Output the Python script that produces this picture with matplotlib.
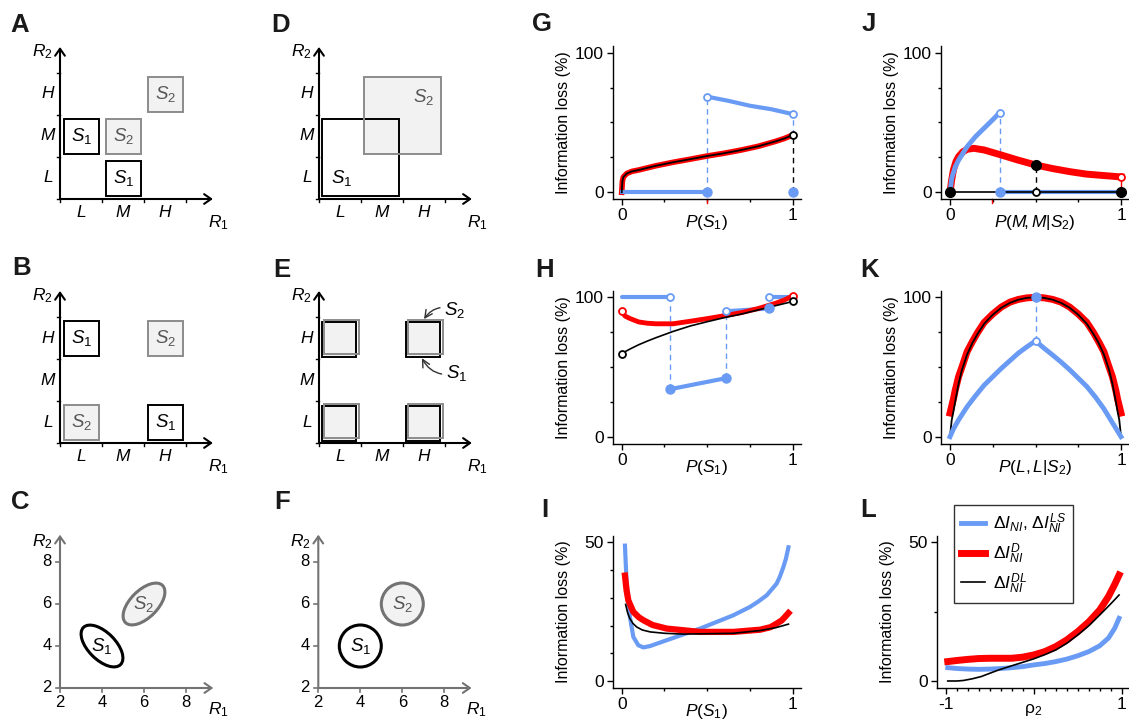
import numpy as np
import matplotlib
matplotlib.use('Agg')
import matplotlib.pyplot as plt
from matplotlib.patches import Rectangle, Ellipse, Circle, FancyArrowPatch
from matplotlib.lines import Line2D

plt.rcParams['font.family'] = ['Liberation Sans', 'DejaVu Sans']
plt.rcParams['mathtext.fontset'] = 'custom'
plt.rcParams['mathtext.rm'] = 'Liberation Sans'
plt.rcParams['mathtext.it'] = 'Liberation Sans:italic'
plt.rcParams['mathtext.bf'] = 'Liberation Sans:bold'
plt.rcParams['axes.unicode_minus'] = False

# ---------------- data ----------------
cat_labels = ['L', 'M', 'H']
# (column, row) cells of the response boxes
a_s1 = [(0, 1), (1, 0)]
a_s2 = [(1, 1), (2, 2)]
b_s1 = [(0, 2), (2, 0)]
b_s2 = [(2, 2), (0, 0)]
e_cells = [(0, 0), (0, 2), (2, 0), (2, 2)]
d_s1 = (0.08, 0.07, 1.9, 1.9)   # x0, y0, x1, y1 in cells
d_s2 = (1.07, 1.07, 2.9, 2.9)

cf_ticks = [2, 4, 6, 8]
c_s1 = (4, 4, 2.5, 1.3, -45)    # cx, cy, width, height, angle
c_s2 = (6, 6, 2.5, 1.3, 45)
f_s1 = (4, 4, 1.0)              # cx, cy, radius
f_s2 = (6, 6, 1.0)

# G
g_x = [0, 0.004, 0.01, 0.03, 0.06, 0.1, 0.2, 0.3, 0.4, 0.5, 0.6, 0.7, 0.8, 0.9, 0.95, 1.0]
g_dl = [0, 8, 11, 13.5, 15, 16, 19, 21.5, 23.7, 26, 28, 30.3, 33, 36.5, 38.5, 41]
g_blue_lo_x = [0, 0.5]
g_blue_lo = [0, 0]
g_blue_hi_x = [0.5, 0.625, 0.75, 0.875, 1.0]
g_blue_hi = [68.5, 65.5, 62, 59.5, 56]

# H
h_blue_segs = [([0, 0.28], [100, 100]),
               ([0.28, 0.61], [34, 42]),
               ([0.61, 0.86], [90, 92]),
               ([0.86, 1.0], [100, 100])]
h_x = [0, 0.02, 0.05, 0.1, 0.15, 0.2, 0.3, 0.4, 0.5, 0.6, 0.7, 0.8, 0.9, 0.95, 1.0]
h_red = [90, 86.5, 84.7, 82.3, 81.4, 81, 81, 82.8, 84.7, 86.8, 89, 92, 95.7, 98, 101]
h_black = [59, 61, 63, 66, 68.6, 71, 75.5, 79.4, 82.5, 85.4, 88, 91, 94, 95.5, 97]

# I
i_blue_x = [0.019, 0.029, 0.048, 0.068, 0.097, 0.127, 0.166, 0.263, 0.458, 0.653, 0.75, 0.8, 0.848,
            0.88, 0.906, 0.925, 0.945, 0.96, 0.975]
i_blue = [48.8, 35.1, 23.1, 15.9, 12.9, 12.1, 12.6, 14.7, 18.9, 23.7, 26.7, 28.7, 30.9,
          33.2, 35.1, 37.6, 41, 44, 48.2]
i_red_x = [0.019, 0.029, 0.039, 0.068, 0.1, 0.127, 0.18, 0.263, 0.458, 0.653, 0.81, 0.87, 0.906,
           0.935, 0.955, 0.975]
i_red = [38, 32.5, 29, 24.9, 23, 21.9, 20.2, 18.9, 17.7, 17.7, 18.5, 19.4, 20.7, 21.8, 23.1, 24.5]
i_black_x = [0.023, 0.035, 0.048, 0.065, 0.087, 0.12, 0.166, 0.25, 0.36, 0.653, 0.81, 0.9, 0.975]
i_black = [27.6, 24.5, 22.5, 20.8, 19.5, 18.4, 17.7, 17.2, 16.9, 17.2, 18.2, 19.2, 20.5]

# J
j_blue_x = [0, 0.01, 0.03, 0.05, 0.1, 0.15, 0.2, 0.25, 0.29]
j_blue = [0, 10, 18, 23, 32.7, 40, 46, 52, 57]
j_red_x = [0, 0.01, 0.02, 0.035, 0.05, 0.075, 0.1, 0.14, 0.2, 0.3, 0.4, 0.5, 0.6, 0.7, 0.8, 0.9, 1.0]
j_red = [0, 9, 16, 22, 25.5, 29, 30.8, 31.5, 30.3, 26.7, 23, 19.6, 17, 14.8, 13, 12, 11]

# K
k_x = [0, 0.01, 0.02, 0.03, 0.05, 0.07, 0.1, 0.13, 0.16, 0.2, 0.25, 0.3, 0.35, 0.4, 0.45, 0.5,
       0.55, 0.6, 0.65, 0.7, 0.75, 0.8, 0.84, 0.87, 0.9, 0.93, 0.95, 0.97, 0.98, 0.99, 1.0]
k_red = [17, 22, 27, 33, 43, 50, 61, 68, 74.5, 82, 88, 93, 96.5, 98.5, 99.6, 100,
         99.6, 98.5, 96.5, 93, 88, 82, 74.5, 68, 61, 50, 43, 33, 27, 22, 17]
k_black = [0, 12, 18, 25, 38, 48, 59, 67, 73.5, 81, 87.5, 92.5, 96, 98.3, 99.6, 100,
           99.6, 98.3, 96, 92.5, 87.5, 81, 73.5, 67, 59, 48, 38, 25, 18, 12, 0]
k_blue_x = [0, 0.02, 0.05, 0.1, 0.15, 0.2, 0.25, 0.3, 0.35, 0.4, 0.45, 0.5,
            0.55, 0.6, 0.65, 0.7, 0.75, 0.8, 0.85, 0.9, 0.95, 0.98, 1.0]
k_blue = [0, 5.5, 12, 21.5, 29.5, 37, 43, 49, 54.5, 60, 64.5, 68.7,
          63.5, 58.6, 53.5, 48, 42, 36, 28.5, 20, 10, 4, 0]

# L
l_x = [-0.98, -0.875, -0.75, -0.625, -0.5, -0.375, -0.25, -0.125, 0, 0.125, 0.25, 0.375, 0.5,
       0.625, 0.75, 0.85, 0.92, 0.97]
l_red = [7, 7.4, 7.8, 8.1, 8.2, 8.2, 8.2, 8.6, 9.4, 10.6, 12.4, 14.8, 17.8, 21.3, 25.6, 30.5, 34.8, 38.2]
l_blue = [4.8, 4.5, 4.3, 4.2, 4.3, 4.5, 4.8, 5.2, 5.8, 6.3, 7, 7.9, 9.1, 10.6, 12.7, 15.5, 19, 22.6]
l_black_x = [-0.98, -0.875, -0.8, -0.7, -0.6, -0.5, -0.4, -0.3, -0.2, -0.1, 0, 0.125, 0.25, 0.375,
             0.5, 0.625, 0.75, 0.85, 0.92, 0.97]
l_black = [0, 0, 0.2, 0.8, 1.6, 2.8, 4, 5, 6, 7, 8, 9.5, 11.2, 13.6, 16.6, 19.9, 23.8, 27, 29.3, 31]
legend_labels = [r'$\Delta I_{NI}$, $\Delta I_{NI}^{LS}$', r'$\Delta I_{NI}^{D}$', r'$\Delta I_{NI}^{DL}$']

# ---------------- style ----------------
BLUE = '#6a9bf4'
RED = '#ff0000'
GREY = '#737373'
FILL = '#f2f2f2'
W, H = 1129, 722

fig = plt.figure(figsize=(W / 100, H / 100), dpi=100)


def px_axes(left, right, top, bottom):
    ax = fig.add_axes([left / W, 1 - bottom / H, (right - left) / W, (bottom - top) / H])
    ax.patch.set_visible(False)
    return ax


def schem_axes(ox, oy, u, xlim, ylim):
    ax = px_axes(ox + xlim[0] * u, ox + xlim[1] * u, oy - ylim[1] * u, oy - ylim[0] * u)
    ax.set_xlim(xlim)
    ax.set_ylim(ylim)
    ax.axis('off')
    return ax


def arrows(ax, x0, y0, xe, ye, color='k'):
    for end in [(xe, y0), (x0, ye)]:
        ax.add_patch(FancyArrowPatch((x0, y0), end, arrowstyle='->,head_length=5,head_width=3.5',
                                     mutation_scale=1, lw=1.5, color=color,
                                     shrinkA=0, shrinkB=0, clip_on=False))


def grid_axes(ox, oy):
    ax = schem_axes(ox, oy, 42, (-1.2, 4.2), (-0.9, 3.9))
    arrows(ax, 0, 0, 3.64, 3.62)
    for i in range(4):
        ax.plot([i, i], [0, -0.08], color='k', lw=1)
        ax.plot([-0.08, 0], [i, i], color='k', lw=1)
    for i, lab in enumerate(cat_labels):
        ax.text(i + 0.5, -0.33, lab, ha='center', va='center', style='italic', fontsize=12.5)
        ax.text(-0.29, i + 0.5, lab, ha='center', va='center', style='italic', fontsize=12.5)
    ax.text(3.76, -0.57, r'$R_1$', ha='center', va='center', fontsize=12.5)
    ax.text(-0.43, 3.5, r'$R_2$', ha='center', va='center', fontsize=12.5)
    return ax


def cell_box(ax, c, r, s):
    if s == 1:
        ax.add_patch(Rectangle((c + 0.09, r + 0.07), 0.84, 0.84, fc='white', ec='k', lw=1.4))
        ax.text(c + 0.51, r + 0.49, r'$S_1$', ha='center', va='center', fontsize=13.5)
    else:
        ax.add_patch(Rectangle((c + 0.09, r + 0.07), 0.84, 0.84, fc=FILL, ec='#8c8c8c', lw=1.4))
        ax.text(c + 0.51, r + 0.49, r'$S_2$', ha='center', va='center', fontsize=13.5, color='#555555')


def plain_axes(ox, oy):
    ax = schem_axes(ox - 42, oy + 42, 21, (0.5, 10.2), (0.4, 9.8))
    arrows(ax, 2, 2, 9.3, 9.3, color=GREY)
    for t in cf_ticks:
        ax.plot([t, t], [2, 1.8], color=GREY, lw=1.2)
        ax.plot([1.8, 2], [t, t], color=GREY, lw=1.2)
        ax.text(t, 1.3, str(t), ha='center', va='center', fontsize=12)
        ax.text(1.37, t, str(t), ha='center', va='center', fontsize=12)
    ax.text(9.52, 0.95, r'$R_1$', ha='center', va='center', fontsize=12.5)
    ax.text(1.14, 8.95, r'$R_2$', ha='center', va='center', fontsize=12.5)
    return ax


# ---- A ----
ax = grid_axes(60, 199)
for c, r in a_s1:
    cell_box(ax, c, r, 1)
for c, r in a_s2:
    cell_box(ax, c, r, 2)

# ---- B ----
ax = grid_axes(60, 443)
for c, r in b_s1:
    cell_box(ax, c, r, 1)
for c, r in b_s2:
    cell_box(ax, c, r, 2)

# ---- D ----
ax = grid_axes(319, 199)
ax.add_patch(Rectangle((d_s2[0], d_s2[1]), d_s2[2] - d_s2[0], d_s2[3] - d_s2[1], fc=FILL, ec='none'))
ax.add_patch(Rectangle((d_s1[0], d_s1[1]), d_s1[2] - d_s1[0], d_s1[3] - d_s1[1], fc='none', ec='k', lw=1.4))
ax.add_patch(Rectangle((d_s2[0], d_s2[1]), d_s2[2] - d_s2[0], d_s2[3] - d_s2[1], fc='none', ec='#8c8c8c', lw=1.4))
ax.text(0.55, 0.5, r'$S_1$', ha='center', va='center', fontsize=13.5)
ax.text(2.5, 2.43, r'$S_2$', ha='center', va='center', fontsize=13.5, color='#555555')

# ---- E ----
ax = grid_axes(319, 443)
for c, r in e_cells:
    ax.add_patch(Rectangle((c + 0.06, r + 0.05), 0.82, 0.82, fc=FILL, ec='k', lw=1.4))
    ax.add_patch(Rectangle((c + 0.125, r + 0.11), 0.82, 0.82, fc='none', ec='#8c8c8c', lw=1.4))
ax.annotate(r'$S_2$', xy=(2.5, 2.95), xytext=(2.98, 3.17), ha='left', va='center', fontsize=13.5,
            arrowprops=dict(arrowstyle='->,head_length=0.4,head_width=0.2', connectionstyle='arc3,rad=0.4',
                            lw=1, color='#333333', shrinkA=1, shrinkB=0))
ax.annotate(r'$S_1$', xy=(2.45, 2.02), xytext=(3.02, 1.67), ha='left', va='center', fontsize=13.5,
            arrowprops=dict(arrowstyle='->,head_length=0.4,head_width=0.2', connectionstyle='arc3,rad=-0.4',
                            lw=1, color='#333333', shrinkA=1, shrinkB=0))

# ---- C ----
ax = plain_axes(60, 688)
cx, cy, w, h, ang = c_s1
ax.add_patch(Ellipse((cx, cy), w, h, angle=ang, fc='white', ec='k', lw=2.2))
ax.text(cx, cy, r'$S_1$', ha='center', va='center', fontsize=13.5)
cx, cy, w, h, ang = c_s2
ax.add_patch(Ellipse((cx, cy), w, h, angle=ang, fc=FILL, ec=GREY, lw=2.2))
ax.text(cx, cy, r'$S_2$', ha='center', va='center', fontsize=13.5, color='#555555')

# ---- F ----
ax = plain_axes(318.3, 688)
cx, cy, rad = f_s1
ax.add_patch(Circle((cx, cy), rad, fc='white', ec='k', lw=2.2))
ax.text(cx, cy, r'$S_1$', ha='center', va='center', fontsize=13.5)
cx, cy, rad = f_s2
ax.add_patch(Circle((cx, cy), rad, fc=FILL, ec=GREY, lw=2.2))
ax.text(cx, cy, r'$S_2$', ha='center', va='center', fontsize=13.5, color='#555555')


# ---------------- information-loss panels ----------------
def loss_panel(x0, x1, y0, ytop, xlabel, xr=(0, 1), yr=(0, 100), yminor=(25, 50, 75),
               xminor=(0.25, 0.5, 0.75)):
    dx, dy = xr[1] - xr[0], yr[1] - yr[0]
    ux, uy = (x1 - x0) / dx, (y0 - ytop) / dy
    ml, mr, mb, mt = 0.053 * dx, 0.048 * dx, 0.05 * dy, 0.045 * dy
    left, right = x0 - ml * ux, x1 + mr * ux
    top, bottom = ytop - mt * uy, y0 + mb * uy
    ax = px_axes(left, right, top, bottom)
    ax.set_xlim(xr[0] - ml, xr[1] + mr)
    ax.set_ylim(yr[0] - mb, yr[1] + mt)
    for s in ('top', 'right'):
        ax.spines[s].set_visible(False)
    for s in ('left', 'bottom'):
        ax.spines[s].set_linewidth(1)
    ax.set_xticks(list(xr))
    ax.set_xticklabels([f'{v:g}' for v in xr])
    ax.set_yticks(list(yr))
    ax.set_yticklabels([f'{v:g}' for v in yr])
    ax.set_xticks(list(xminor), minor=True)
    ax.set_yticks(list(yminor), minor=True)
    ax.tick_params(which='major', length=4, width=1, labelsize=12.5, pad=2.5)
    ax.tick_params(which='minor', length=2.5, width=1)
    ax.set_ylabel('Information loss (%)', fontsize=11.5)
    ax.yaxis.set_label_coords(-42 / (right - left), 0.5)
    ax.set_xlabel(xlabel, fontsize=12.5)
    ax.xaxis.set_label_coords(0.5, -14 / (bottom - top))
    return ax


def dot(ax, x, y, c, hollow=False, ms=6.5):
    if hollow:
        ax.plot(x, y, 'o', ms=5, mfc='white', mec=c, mew=1.3, zorder=6, clip_on=False)
    else:
        ax.plot(x, y, 'o', ms=ms, mfc=c, mec=c, zorder=6, clip_on=False)


def vdash(ax, x, ya, yb, c):
    ax.plot([x, x], [ya, yb], color=c, lw=1, ls=(0, (4, 3)), zorder=2)


def red_tick(ax, x, y0, y1):
    ax.plot([x, x], [y0, y1], color=RED, lw=1, clip_on=False)


# ---- G ----
ax = loss_panel(621.7, 792.7, 192.3, 52.7, r'$P(S_1)$')
vdash(ax, 0.5, 0, g_blue_hi[0], BLUE)
vdash(ax, 1.0, g_dl[-1], g_blue_hi[-1], BLUE)
vdash(ax, 1.0, 0, g_dl[-1], 'k')
ax.plot(g_x, g_dl, color=RED, lw=4, zorder=3)
ax.plot(g_x, g_dl, color='k', lw=1.3, zorder=4)
ax.plot(g_blue_lo_x, g_blue_lo, color=BLUE, lw=3, zorder=3)
ax.plot(g_blue_hi_x, g_blue_hi, color=BLUE, lw=3, zorder=3)
dot(ax, 0.5, 0, BLUE)
dot(ax, 1.0, 0, BLUE)
dot(ax, 0.5, g_blue_hi[0], BLUE, hollow=True)
dot(ax, 1.0, g_blue_hi[-1], BLUE, hollow=True)
dot(ax, 1.0, g_dl[-1], 'k', hollow=True)
red_tick(ax, 0.497, -5, -8)

# ---- H ----
ax = loss_panel(621.7, 792.7, 436.7, 297.3, r'$P(S_1)$')
vdash(ax, 0.28, 34, 100, BLUE)
vdash(ax, 0.61, 42, 90, BLUE)
vdash(ax, 0.86, 92, 100, BLUE)
for xs, ys in h_blue_segs:
    ax.plot(xs, ys, color=BLUE, lw=3, zorder=3, solid_capstyle='round')
dot(ax, 0.28, 34, BLUE)
dot(ax, 0.61, 42, BLUE)
dot(ax, 0.86, 92, BLUE)
dot(ax, 0.28, 100, BLUE, hollow=True)
dot(ax, 0.61, 90, BLUE, hollow=True)
dot(ax, 0.86, 100, BLUE, hollow=True)
ax.plot(h_x, h_red, color=RED, lw=3.5, zorder=4)
ax.plot(h_x, h_black, color='k', lw=1.2, zorder=4)
dot(ax, 0, h_red[0], RED, hollow=True)
dot(ax, 1, h_red[-1], RED, hollow=True)
dot(ax, 0, h_black[0], 'k', hollow=True)
dot(ax, 1, h_black[-1], 'k', hollow=True)

# ---- I ----
ax = loss_panel(621.7, 792.7, 681, 542.3, r'$P(S_1)$', yr=(0, 50), yminor=(10, 20, 30, 40))
ax.plot(i_blue_x, i_blue, color=BLUE, lw=3, zorder=3)
ax.plot(i_red_x, i_red, color=RED, lw=4.5, zorder=4)
ax.plot(i_black_x, i_black, color='k', lw=1.2, zorder=5)

# ---- J ----
ax = loss_panel(950, 1121, 192.3, 52.7, r'$P(M\!,M|S_2)$')
ax.plot([0.29, 1], [0, 0], color=BLUE, lw=3, zorder=3)
ax.plot(j_blue_x, j_blue, color=BLUE, lw=3.5, zorder=4)
ax.plot(j_red_x, j_red, color=RED, lw=5, zorder=3)
ax.plot([0, 1], [0, 0], color='k', lw=1.2, zorder=4)
vdash(ax, 0.29, 0, j_blue[-1], BLUE)
vdash(ax, 0.5, 0, 19.6, 'k')
ax.plot([1, 1], [0, j_red[-1]], color=RED, lw=1, zorder=2)
dot(ax, 0.29, 0, BLUE)
dot(ax, 0.29, j_blue[-1], BLUE, hollow=True)
dot(ax, 0, 0, 'k', ms=7)
dot(ax, 1, 0, 'k', ms=7)
dot(ax, 0.5, 19.6, 'k', ms=7)
dot(ax, 0.5, 0, 'k', hollow=True)
dot(ax, 1, j_red[-1], RED, hollow=True)
red_tick(ax, 0.244, -5, -8)

# ---- K ----
ax = loss_panel(950, 1121, 436.7, 297.3, r'$P(L,L|S_2)$')
ax.plot(k_x, k_red, color=RED, lw=5, zorder=3)
ax.plot(k_x, k_black, color='k', lw=1.3, zorder=4)
ax.plot(k_blue_x, k_blue, color=BLUE, lw=3.5, zorder=4)
vdash(ax, 0.5, 68.7, 100, BLUE)
dot(ax, 0.5, 100, BLUE)
dot(ax, 0.5, 68.7, BLUE, hollow=True)

# ---- L ----
ax = loss_panel(946, 1121.7, 681, 542.3, r'$\mathrm{\rho}_2$', xr=(-1, 1), yr=(0, 50),
                yminor=(25,), xminor=np.arange(-0.875, 1.0, 0.125))
ax.set_xticks([-1, 0, 1])
ax.set_xticklabels(['-1', '', '1'])
ax.plot(l_x, l_red, color=RED, lw=5, zorder=3)
ax.plot(l_x, l_blue, color=BLUE, lw=3.5, zorder=4)
ax.plot(l_black_x, l_black, color='k', lw=1.2, zorder=5)
handles = [Line2D([], [], color=BLUE, lw=3.5),
           Line2D([], [], color=RED, lw=5),
           Line2D([], [], color='k', lw=1.2)]
leg = fig.legend(handles, legend_labels, loc='upper left', bbox_to_anchor=(954 / W, 1 - 505 / H),
                 borderaxespad=0, fontsize=12.5, fancybox=False, frameon=True, edgecolor='k',
                 handlelength=1.4, handletextpad=0.45, labelspacing=0.3, borderpad=0.4)
leg.get_frame().set_linewidth(1)

# ---------------- panel letters ----------------
letters = [('A', 10, 32), ('D', 271, 32), ('B', 12, 275), ('E', 273, 277), ('C', 11, 509),
           ('F', 274, 509), ('G', 532, 31), ('J', 862, 31), ('H', 535, 277), ('K', 860, 277),
           ('I', 541, 517), ('L', 860, 517)]
for t, x, y in letters:
    fig.text(x / W, 1 - y / H, t, fontsize=18.5, fontweight='bold', ha='left', va='baseline', color='#1a1a1a')

fig.savefig('out.png', dpi=100)
